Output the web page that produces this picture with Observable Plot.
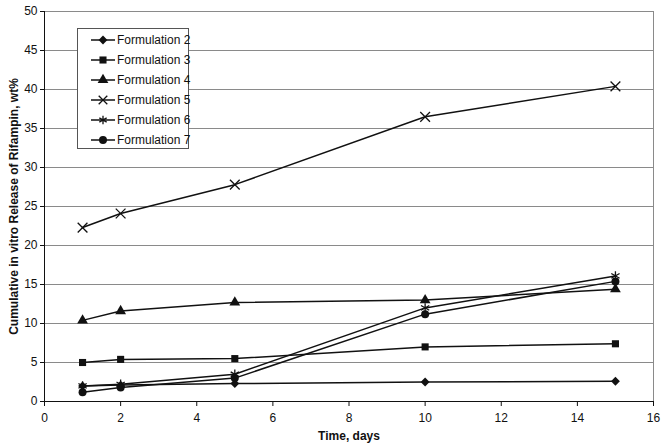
<!DOCTYPE html>
<html>
<head>
<meta charset="utf-8">
<script src="https://cdn.jsdelivr.net/npm/d3@7"></script>
<script src="https://cdn.jsdelivr.net/npm/@observablehq/plot@0.6"></script>
<style>
  html, body { margin: 0; padding: 0; background: #fff; }
  #wrap { position: relative; width: 669px; height: 448px; font-family: "Liberation Sans", Arial, sans-serif; }
  g[aria-label="x-axis label"] text, g[aria-label="y-axis label"] text { font-weight: bold; font-size: 12px; }
  #legend { position: absolute; left: 77px; top: 28px; width: 112px; height: 121px; border: 1px solid #555; background: #fff; box-sizing: border-box; padding-top: 1px; }
  #legend .row { height: 20px; display: flex; align-items: center; font-size: 12px; color: #111; white-space: nowrap; }
  #legend svg { margin-left: 13px; margin-right: 2px; flex: none; }
</style>
</head>
<body>
<div id="wrap"></div>
<script>
const days = [1, 2, 5, 10, 15];
const seriesNames = ["Formulation 2", "Formulation 3", "Formulation 4", "Formulation 5", "Formulation 6", "Formulation 7"];
const f2 = [2.0, 2.1, 2.3, 2.5, 2.6];
const f3 = [5.0, 5.4, 5.5, 7.0, 7.4];
const f4 = [10.4, 11.6, 12.7, 13.0, 14.4];
const f5 = [22.3, 24.1, 27.8, 36.5, 40.4];
const f6 = [2.0, 2.2, 3.5, 12.0, 16.1];
const f7 = [1.2, 1.8, 3.0, 11.2, 15.4];
const xTicks = [0, 2, 4, 6, 8, 10, 12, 14, 16];
const yTicks = [0, 5, 10, 15, 20, 25, 30, 35, 40, 45, 50];
const symbols = ["diamond2", "square", "triangle", "times", "asterisk", "circle"];
const filled = [true, true, true, false, false, true];

const allValues = [f2, f3, f4, f5, f6, f7];
const data = [];
allValues.forEach((vals, i) => vals.forEach((v, j) => data.push({series: seriesNames[i], day: days[j], value: v})));

const symbolScale = {domain: seriesNames, range: symbols};

const chart = Plot.plot({
  width: 669, height: 448,
  marginLeft: 44, marginRight: 16, marginTop: 11, marginBottom: 47,
  style: {fontFamily: "'Liberation Sans', Arial, sans-serif", fontSize: "12px", background: "white", color: "#111"},
  x: {domain: [0, 16]},
  y: {domain: [0, 50]},
  symbol: symbolScale,
  marks: [
    Plot.gridY(yTicks, {stroke: "#8a8a8a", strokeOpacity: 1}),
    Plot.frame({stroke: "#8a8a8a"}),
    Plot.axisX(xTicks, {tickSize: 5, tickPadding: 7, label: "Time, days", labelAnchor: "center", labelArrow: "none", labelOffset: 38}),
    Plot.axisY(yTicks, {tickSize: 4, tickPadding: 3, label: "Cumulative in vitro Release of Rifampin, wt%", labelAnchor: "center", labelArrow: "none", labelOffset: 35}),
    Plot.ruleY([0], {stroke: "#111"}),
    Plot.ruleX([0], {stroke: "#111"}),
    Plot.line(data, {x: "day", y: "value", z: "series", stroke: "#111", strokeWidth: 1.5}),
    Plot.dot(data.filter(d => filled[seriesNames.indexOf(d.series)]), {x: "day", y: "value", symbol: "series", fill: "#111", r: 4}),
    Plot.dot(data.filter(d => !filled[seriesNames.indexOf(d.series)]), {x: "day", y: "value", symbol: "series", stroke: "#111", strokeWidth: 1.3, r: 4.5})
  ]
});

const wrap = document.getElementById("wrap");
wrap.appendChild(chart);

// Legend
const legend = document.createElement("div");
legend.id = "legend";
const symMap = {diamond2: d3.symbolDiamond2, square: d3.symbolSquare, triangle: d3.symbolTriangle, times: d3.symbolTimes, asterisk: d3.symbolAsterisk, circle: d3.symbolCircle};
seriesNames.forEach((name, i) => {
  const row = document.createElement("div");
  row.className = "row";
  const svg = d3.create("svg").attr("width", 24).attr("height", 14);
  svg.append("line").attr("x1", 0).attr("x2", 24).attr("y1", 7).attr("y2", 7).attr("stroke", "#111").attr("stroke-width", 1.5);
  const p = d3.symbol(symMap[symbols[i]], 50)();
  const path = svg.append("path").attr("d", p).attr("transform", "translate(12,7)");
  if (filled[i]) path.attr("fill", "#111"); else path.attr("fill", "none").attr("stroke", "#111").attr("stroke-width", 1.3);
  row.appendChild(svg.node());
  const span = document.createElement("span");
  span.textContent = name;
  row.appendChild(span);
  legend.appendChild(row);
});
wrap.appendChild(legend);
</script>
</body>
</html>
